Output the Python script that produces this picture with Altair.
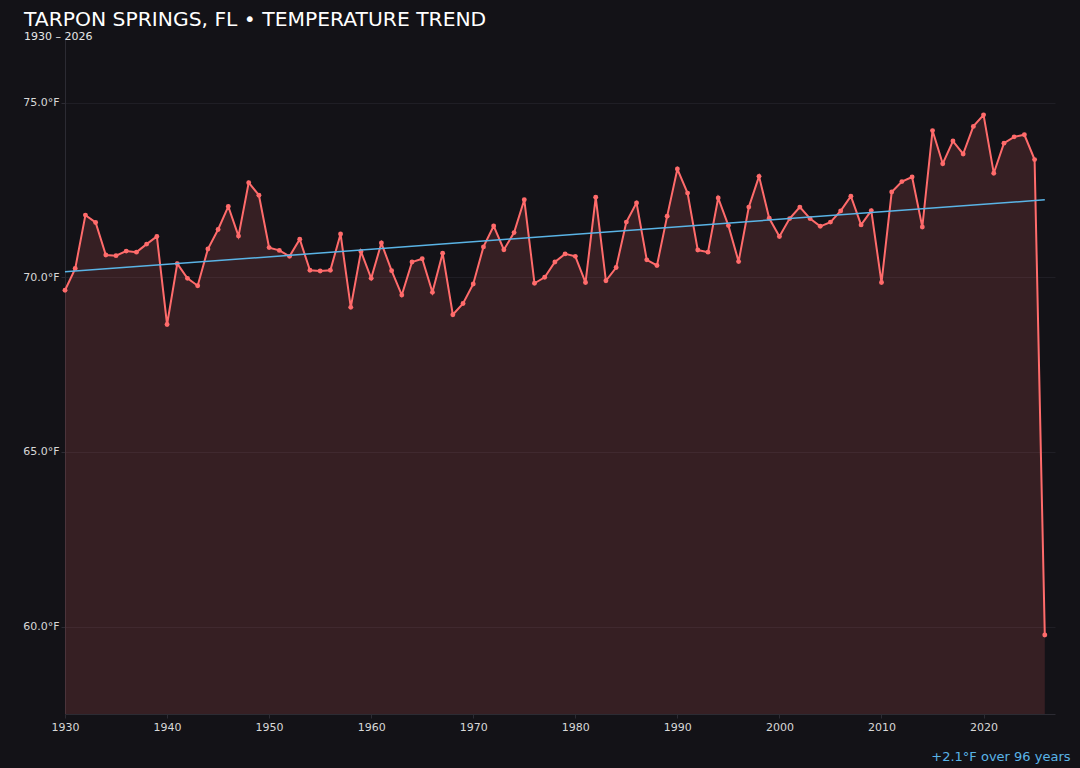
import altair as alt
import pandas as pd
import numpy as np

# ---------------- data ----------------
years = list(range(1930, 2027))
temps = [
    69.63, 70.25, 71.78, 71.57, 70.64, 70.62, 70.75, 70.72, 70.95, 71.17,  # 1930s
    68.65, 70.39, 69.97, 69.76, 70.81, 71.37, 72.03, 71.18, 72.71, 72.35,  # 1940s
    70.85, 70.77, 70.60, 71.09, 70.20, 70.18, 70.20, 71.24, 69.14, 70.74,  # 1950s
    69.97, 70.98, 70.19, 69.49, 70.44, 70.53, 69.57, 70.69, 68.93, 69.25,  # 1960s
    69.81, 70.87, 71.47, 70.79, 71.28, 72.22, 69.83, 70.00, 70.44, 70.67,  # 1970s
    70.60, 69.85, 72.29, 69.90, 70.28, 71.58, 72.13, 70.50, 70.34, 71.75,  # 1980s
    73.10, 72.41, 70.78, 70.72, 72.27, 71.48, 70.45, 72.01, 72.89, 71.69,  # 1990s
    71.17, 71.68, 72.01, 71.68, 71.46, 71.58, 71.90, 72.32, 71.50, 71.91,  # 2000s
    69.85, 72.44, 72.74, 72.87, 71.44, 74.20, 73.25, 73.90, 73.53, 74.32,  # 2010s
    74.65, 72.98, 73.84, 74.02, 74.08, 73.37, 59.76,                       # 2020s
]
x_ticks = [1930, 1940, 1950, 1960, 1970, 1980, 1990, 2000, 2010, 2020]
y_ticks = [60, 65, 70, 75]
x_domain = [1930, 2027]
y_domain = [57.5, 76.85]

title_text = "TARPON SPRINGS, FL • TEMPERATURE TREND"
subtitle_text = f"{years[0]} – {years[-1]}"
slope = np.polyfit(years, temps, 1)[0]
span = years[-1] - years[0]
trend_note = f"+{slope * span:.1f}°F over {span} years"

df = pd.DataFrame({"year": years, "temp": temps})

# ---------------- style ----------------
BG = "#131217"
LINE = "#ff6b6b"
TREND = "#5ab4e6"
FONT = "DejaVu Sans"

x_enc = alt.X(
    "year:Q",
    scale=alt.Scale(domain=x_domain, nice=False, zero=False),
    axis=alt.Axis(
        values=x_ticks, format="d", grid=False, tickSize=4, labelPadding=3,
        labelFlush=False,
        title=trend_note, titleColor=TREND, titleFontSize=13, titleFont=FONT,
        titleFontWeight="normal", titleAlign="right", titleAnchor="end",
        titleX=1005, titleY=46, titleBaseline="alphabetic",
    ),
)
y_enc = alt.Y(
    "temp:Q",
    scale=alt.Scale(domain=y_domain, nice=False, zero=False),
    axis=alt.Axis(
        values=y_ticks, grid=True, tickSize=4, labelPadding=2,
        labelExpr="format(datum.value, '.1f') + '°F'",
    ),
    title=None,
)

base = alt.Chart(df)

area = base.mark_area(color=LINE, opacity=0.15).encode(
    x=x_enc, y=y_enc, y2=alt.datum(y_domain[0])
)
line = base.mark_line(color=LINE, strokeWidth=2).encode(x="year:Q", y="temp:Q")
points = base.mark_point(color=LINE, filled=True, size=24, opacity=1).encode(
    x="year:Q", y="temp:Q"
)
trend = (
    base.transform_regression("year", "temp", extent=[years[0], years[-1]])
    .mark_line(color=TREND, strokeWidth=1.5)
    .encode(x="year:Q", y="temp:Q")
)

chart = (
    alt.layer(area, line, points, trend)
    .properties(
        width=990,
        height=676,
        title=alt.TitleParams(
            text=title_text,
            subtitle=subtitle_text,
            anchor="start",
            frame="group",
            dx=-41,
            offset=-4,
            font=FONT,
            fontSize=20.3,
            fontWeight="normal",
            color="#ffffff",
            subtitleFont=FONT,
            subtitleFontSize=11,
            subtitleColor="#e6e6e6",
            subtitlePadding=1,
        ),
        autosize=alt.AutoSizeParams(type="none"),
        padding={"left": 57, "top": 30, "right": 17, "bottom": 50},
    )
    .configure(background=BG)
    .configure_view(stroke=None)
    .configure_axis(
        domainColor="#2c2b33",
        tickColor="#2c2b33",
        gridColor="#1f1e25",
        labelColor="#d8d8d8",
        labelFont=FONT,
        labelFontSize=11,
    )
)

# dark page around the chart, as in the reference
try:
    import altair.utils.html as _ah

    _std = _ah.TEMPLATES["standard"]

    class _DarkPage:
        def render(self, *a, **k):
            html = _std.render(*a, **k)
            return html.replace(
                "<style>", "<style>\n    html, body { background: #131217; }", 1
            )

    _ah.TEMPLATES["standard"] = _DarkPage()
except Exception:
    pass

chart.save("out.html", embed_options={"renderer": "svg", "actions": False})
